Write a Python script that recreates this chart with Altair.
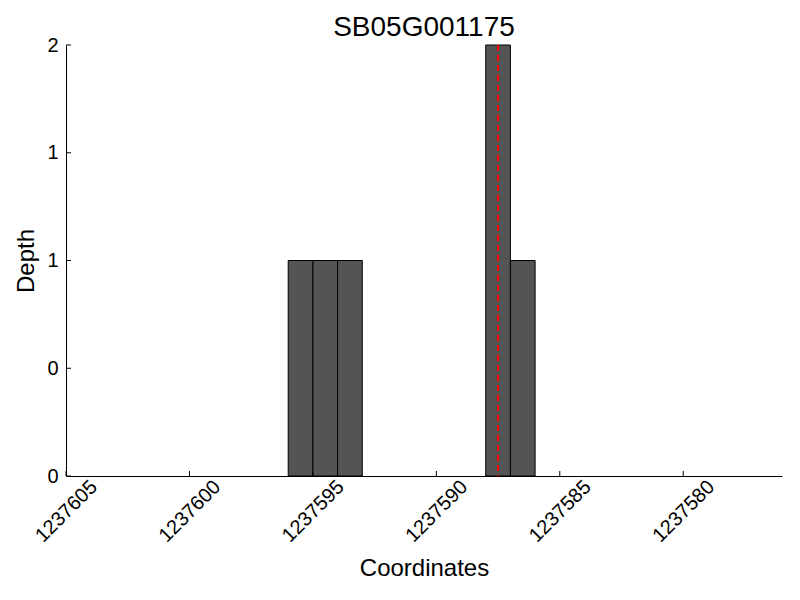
import altair as alt
import pandas as pd

# data
bar_start = [1237596, 1237595, 1237594, 1237588, 1237587]
bar_end = [1237595, 1237594, 1237593, 1237587, 1237586]
depth = [1, 1, 1, 2, 1]
marker_pos = [1237587.5]
x_ticks = [1237605, 1237600, 1237595, 1237590, 1237585, 1237580]
y_ticks = [0, 0.5, 1, 1.5, 2]
x_domain = [1237576, 1237605]
y_domain = [0, 2]
title_text = "SB05G001175"

W, H = 716, 431
FONT = "Liberation Sans"

bars_df = pd.DataFrame({"start": bar_start, "end": bar_end, "depth": depth})
marker_df = pd.DataFrame({"start": marker_pos})
xt_df = pd.DataFrame({"start": x_ticks})
yt_df = pd.DataFrame({"depth": y_ticks})

xscale = alt.Scale(domain=x_domain, reverse=True, nice=False, zero=False)
yscale = alt.Scale(domain=y_domain, nice=False, zero=True)

x_axis = alt.Axis(values=x_ticks, title="Coordinates", format="d",
                  labelAngle=-45, labelAlign="center", labelBaseline="middle",
                  labelPadding=35, ticks=False, grid=False,
                  labelFontSize=20, titleFontSize=24, titlePadding=11)
y_axis = alt.Axis(values=y_ticks, title="Depth",
                  labelExpr="format(floor(datum.value), 'd')",
                  labelPadding=8, ticks=False, grid=False,
                  labelFontSize=20, titleFontSize=24, titlePadding=8)

bars = alt.Chart(bars_df).mark_bar(
    color="#545454", stroke="black", strokeWidth=1
).encode(
    x=alt.X("start:Q", scale=xscale, axis=x_axis),
    x2="end:Q",
    y=alt.Y("depth:Q", scale=yscale, axis=y_axis),
    y2=alt.datum(0),
)

marker = alt.Chart(marker_df).mark_rule(
    color="red", strokeDash=[6, 4], strokeWidth=2
).encode(x=alt.X("start:Q", scale=xscale, axis=x_axis))

xt = alt.Chart(xt_df).mark_rule(color="black", strokeWidth=1).encode(
    x=alt.X("start:Q", scale=xscale, axis=x_axis),
    y=alt.value(H), y2=alt.value(H - 5),
)
yt = alt.Chart(yt_df).mark_rule(color="black", strokeWidth=1).encode(
    y=alt.Y("depth:Q", scale=yscale, axis=y_axis),
    x=alt.value(0), x2=alt.value(5),
)

chart = alt.layer(bars, marker, xt, yt).properties(
    width=W, height=H,
    title=alt.TitleParams(title_text, fontSize=28, font=FONT, fontWeight="normal",
                          anchor="middle", offset=-7, color="black"),
    autosize="none",
    padding={"left": 58, "top": 37, "right": 10, "bottom": 110},
).configure_axis(
    labelFont=FONT, titleFont=FONT, labelColor="black", titleColor="black",
    titleFontWeight="normal", domainColor="black", domainWidth=1,
).configure_view(strokeWidth=0)

chart.save("out.html", embed_options={"renderer": "svg", "actions": False})
